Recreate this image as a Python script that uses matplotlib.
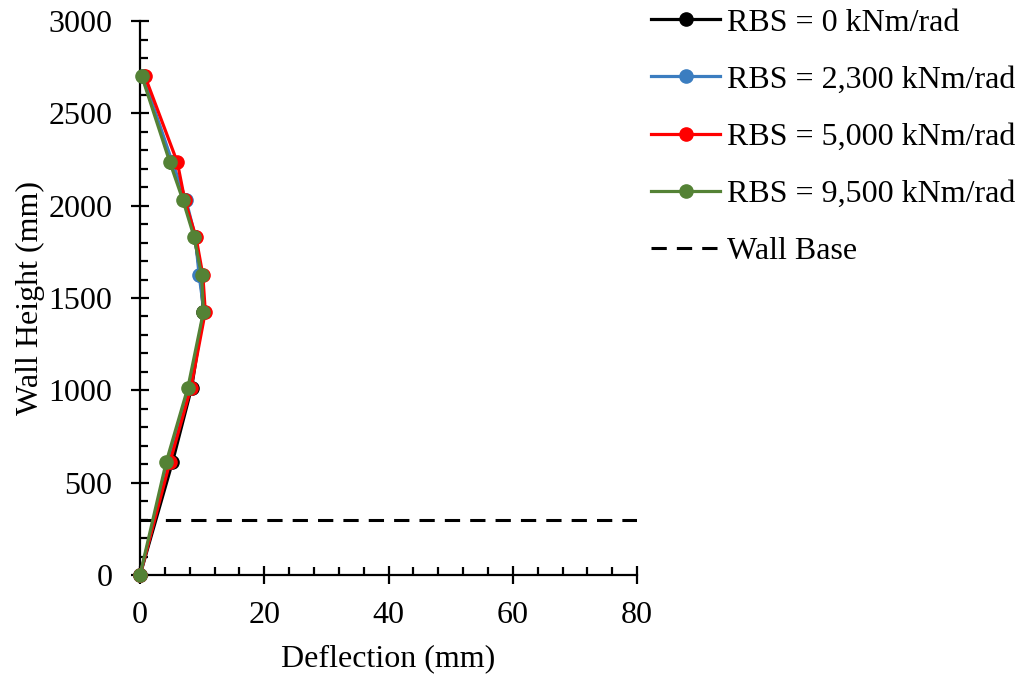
import matplotlib
matplotlib.use("Agg")
import matplotlib.pyplot as plt
from matplotlib.ticker import MultipleLocator

plt.rcParams['font.family'] = ['Liberation Serif', 'DejaVu Serif']

# Wall heights (mm) and lateral deflections (mm) per rotational base stiffness
heights = [0, 610, 1015, 1425, 1625, 1830, 2030, 2235, 2700]
defl_rbs_0 = [0, 5.2, 8.3, 10.2, 9.7, 8.8, 7.2, 5.0, 0.4]
defl_rbs_2300 = [0, 4.6, 8.0, 10.3, 9.5, 8.9, 7.4, 5.2, 0.5]
defl_rbs_5000 = [0, 4.8, 8.2, 10.5, 10.1, 9.0, 7.2, 6.0, 0.8]
defl_rbs_9500 = [0, 4.2, 7.7, 10.2, 9.9, 8.7, 6.9, 4.8, 0.3]

series_labels = ["RBS = 0 kNm/rad", "RBS = 2,300 kNm/rad",
                 "RBS = 5,000 kNm/rad", "RBS = 9,500 kNm/rad"]
series_colors = ["#000000", "#3B7DC0", "#FF0000", "#548235"]

wall_base_height = 300
wall_base_x = [0, 80]

fig = plt.figure(figsize=(10.26, 6.79), dpi=100)
ax = fig.add_axes([0.1365, 0.1532, 0.4845, 0.8158])

for d, lab, c in zip([defl_rbs_0, defl_rbs_2300, defl_rbs_5000, defl_rbs_9500],
                     series_labels, series_colors):
    ax.plot(d, heights, color=c, lw=2.3, marker='o', ms=9.5, label=lab,
            clip_on=False, zorder=3)

ax.plot(wall_base_x, [wall_base_height] * 2, color='black', lw=2.2,
        ls=(0, (5, 3.3)), label="Wall Base")

ax.set_xlim(0, 80)
ax.set_ylim(0, 3000)
ax.xaxis.set_major_locator(MultipleLocator(20))
ax.xaxis.set_minor_locator(MultipleLocator(4))
ax.yaxis.set_major_locator(MultipleLocator(500))
ax.yaxis.set_minor_locator(MultipleLocator(100))

for s in ['top', 'right']:
    ax.spines[s].set_visible(False)
for s in ['left', 'bottom']:
    ax.spines[s].set_linewidth(1.6)

ax.tick_params(which='major', direction='inout', length=13, width=1.6,
               labelsize=23)
ax.tick_params(axis='x', which='major', pad=12)
ax.tick_params(axis='y', which='major', pad=13.5)
ax.tick_params(which='minor', direction='in', length=6, width=1.6)

ax.set_xlabel("Deflection (mm)", fontsize=23, labelpad=10.5)
ax.set_ylabel("Wall Height (mm)", fontsize=23, labelpad=2.5)

fig.legend(loc='upper left', bbox_to_anchor=(651 / 1026, 0.988), frameon=False,
           fontsize=23, handlelength=2.16, labelspacing=0.87, handletextpad=0.22,
           borderpad=0, borderaxespad=0)

fig.savefig("out.png", dpi=100)
